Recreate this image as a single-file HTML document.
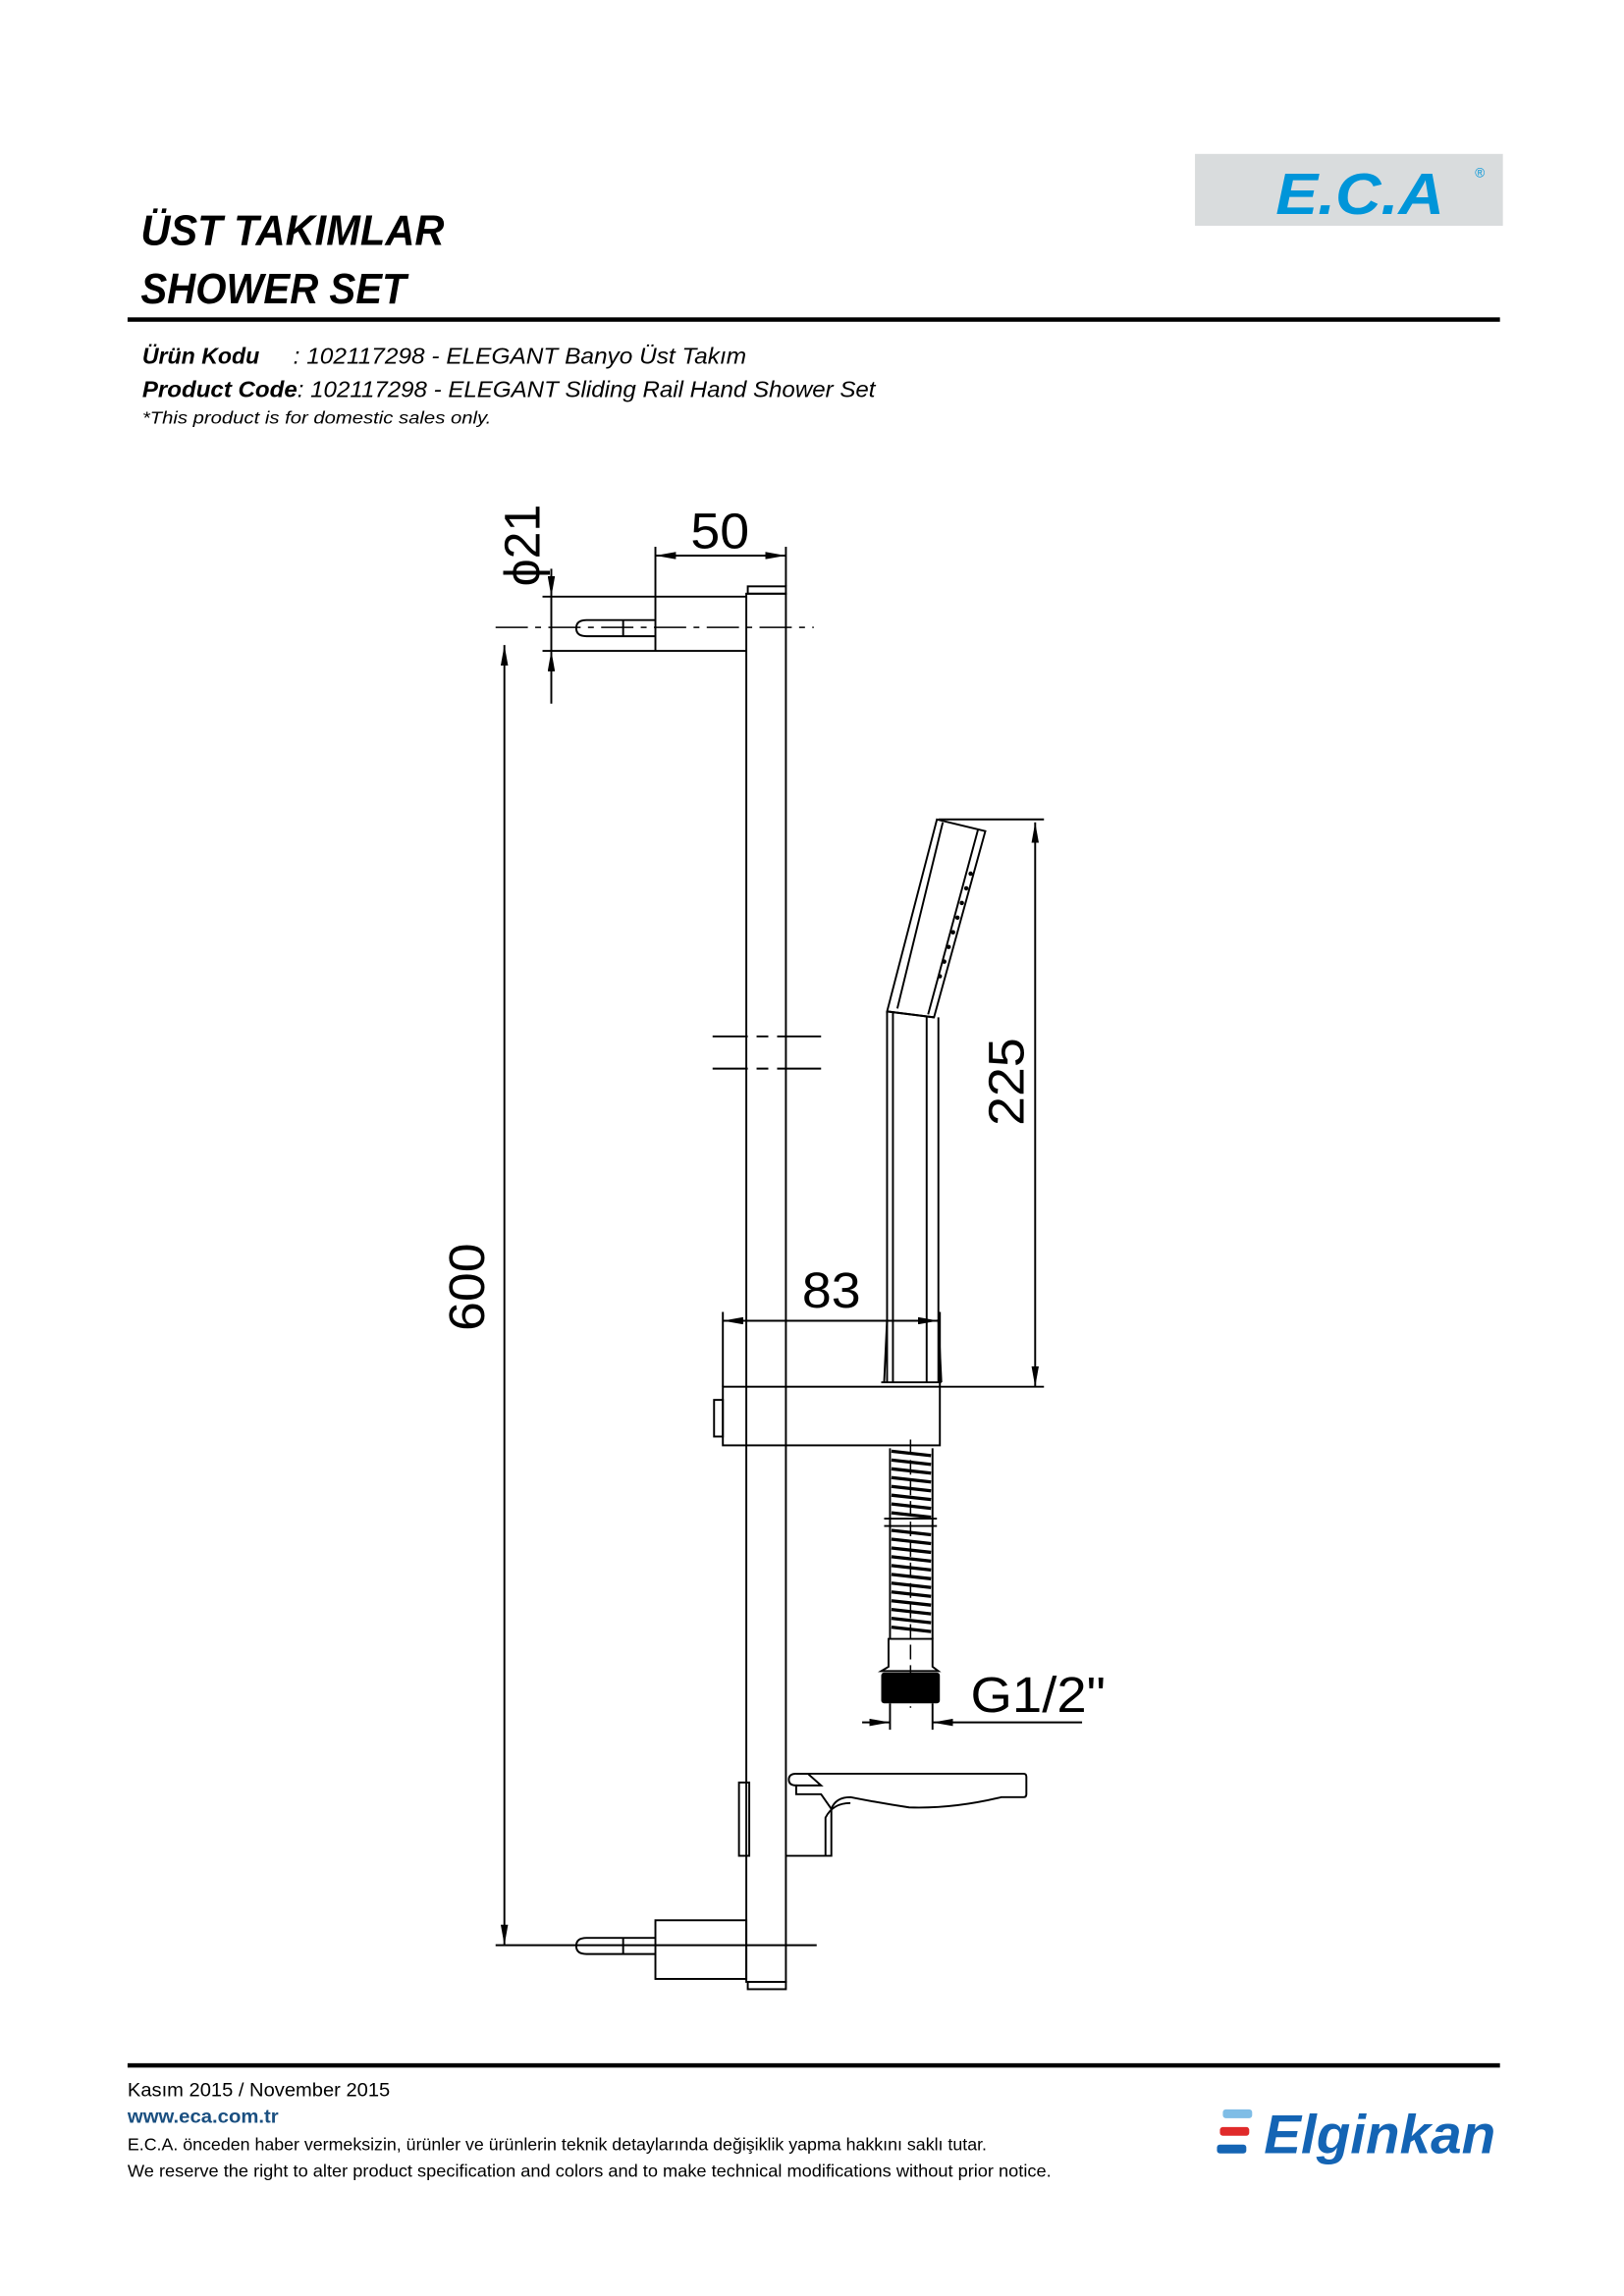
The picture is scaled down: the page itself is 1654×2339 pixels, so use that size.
<!DOCTYPE html>
<html><head><meta charset="utf-8"><style>
html,body{margin:0;padding:0;background:#fff;}
svg{display:block;}
text{font-family:"Liberation Sans",sans-serif;}
</style></head><body>
<svg width="1654" height="2339" viewBox="0 0 1107.6 1566.3" xmlns="http://www.w3.org/2000/svg">
<defs>
<marker id="a" viewBox="0 0 14 5" refX="14" refY="2.5" markerWidth="14" markerHeight="5" markerUnits="userSpaceOnUse" orient="auto-start-reverse"><path d="M0,0 L14,2.5 L0,5 z" fill="#000"/></marker>
</defs>
<text x="96" y="167" font-size="29" font-weight="bold" font-style="italic" textLength="207" lengthAdjust="spacingAndGlyphs">ÜST TAKIMLAR</text>
<text x="96" y="207" font-size="29" font-weight="bold" font-style="italic" textLength="181" lengthAdjust="spacingAndGlyphs">SHOWER SET</text>
<rect x="87" y="216.5" width="936" height="3" fill="#000"/>
<rect x="815" y="105" width="210" height="49" fill="#d9dcdd"/>
<text x="870" y="146" font-size="40" font-weight="bold" font-style="italic" fill="#0095d9" textLength="115" lengthAdjust="spacingAndGlyphs">E.C.A</text>
<text x="1006" y="121" font-size="9" fill="#0095d9">®</text>
<text x="97" y="248" font-size="15.5" font-style="italic"><tspan font-weight="bold">Ürün Kodu</tspan></text>
<text x="200" y="248" font-size="15.5" font-style="italic" textLength="309" lengthAdjust="spacingAndGlyphs">: 102117298 - ELEGANT Banyo Üst Takım</text>
<text x="97" y="271" font-size="15.5" font-style="italic" textLength="500" lengthAdjust="spacingAndGlyphs"><tspan font-weight="bold">Product Code</tspan>: 102117298 - ELEGANT Sliding Rail Hand Shower Set</text>
<text x="97" y="289" font-size="12" font-style="italic" textLength="238" lengthAdjust="spacingAndGlyphs">*This product is for domestic sales only.</text>

<g fill="none" stroke="#000" stroke-width="1.3">
<rect x="509" y="405" width="27" height="947"/>
<rect x="510" y="400" width="26" height="5"/>
<rect x="510" y="1352" width="26" height="5"/>
<line x1="370" y1="407" x2="509" y2="407"/>
<line x1="370" y1="444" x2="509" y2="444"/>
<line x1="447" y1="373" x2="447" y2="444"/>
<path d="M447,423 H400 Q393,423 393,428.5 Q393,434 400,434 H447"/>
<line x1="425" y1="423" x2="425" y2="434"/>
<line x1="338" y1="428" x2="555" y2="428" stroke-dasharray="22,5,4,5" stroke-width="1"/>
<line x1="376" y1="388" x2="376" y2="407" marker-end="url(#a)"/>
<line x1="376" y1="480" x2="376" y2="444" marker-end="url(#a)"/>
<line x1="376" y1="407" x2="376" y2="444"/>
<line x1="447" y1="379" x2="536" y2="379" marker-start="url(#a)" marker-end="url(#a)"/>
<line x1="536" y1="373" x2="536" y2="400"/>
<line x1="344" y1="440" x2="344" y2="1327" marker-start="url(#a)" marker-end="url(#a)"/>
<line x1="486" y1="707" x2="560" y2="707" stroke-dasharray="24,6,8,6,40"/>
<line x1="486" y1="729" x2="560" y2="729" stroke-dasharray="24,6,8,6,40"/>
<path d="M639,559 L672,567 L637,694 L605,690 Z"/>
<path d="M643,561 L612,688 M667,566 L633,692"/>
<line x1="605" y1="690" x2="637" y2="694"/>
<path d="M605,690 V943 M640,694 V943 M609,691 V943 M632,694 V943"/>
<path d="M603,943 L605,900 M642,943 L640,900"/>
<line x1="601" y1="943" x2="642" y2="943"/>
<line x1="706" y1="561" x2="706" y2="946" marker-start="url(#a)" marker-end="url(#a)"/>
<line x1="640" y1="559" x2="712" y2="559"/>
<line x1="641" y1="946" x2="712" y2="946"/>
<line x1="493" y1="901" x2="640" y2="901" marker-start="url(#a)" marker-end="url(#a)"/>
<line x1="493" y1="895" x2="493" y2="946"/>
<line x1="641" y1="895" x2="641" y2="946"/>
<rect x="493" y="946" width="148" height="40"/>
<rect x="487" y="955" width="6" height="25"/>
<path d="M607,988 V1118 M636,988 V1118"/>
<line x1="621" y1="982" x2="621" y2="1165" stroke-dasharray="10,4" stroke-width="1"/>
<path d="M603,1036 H639 M603,1041 H639"/>
<path d="M606,1118 H636 V1137 L640,1140 H601 L606,1137 Z"/>
<line x1="588" y1="1175" x2="607" y2="1175" marker-end="url(#a)"/>
<line x1="738" y1="1175" x2="636" y2="1175" marker-end="url(#a)"/>
<line x1="607" y1="1162" x2="607" y2="1180"/>
<line x1="636" y1="1162" x2="636" y2="1180"/>
<rect x="504" y="1216" width="7" height="50"/>
<path d="M536,1266 H567 V1234 Q570,1226 580,1226 Q600,1230 620,1233 Q650,1234 683,1226 H698 Q700,1226 700,1224 V1212 Q700,1210 698,1210 H543 Q538,1210 538,1214 Q538,1218 543,1218 V1224 H560 L567,1234"/>
<path d="M543,1210 H551 L560,1218 H543"/>
<path d="M563,1266 V1240 Q568,1230 580,1230"/>
<rect x="447" y="1310" width="62" height="40"/>
<path d="M447,1322 H400 Q393,1322 393,1327.5 Q393,1333 400,1333 H447"/>
<line x1="425" y1="1322" x2="425" y2="1333"/>
<line x1="338" y1="1327" x2="557" y2="1327"/>
</g>
<g stroke="#000" stroke-width="2.2">
<path d="M608,990 L635,993 M608,996 L635,999 M608,1002 L635,1005 M608,1008 L635,1011 M608,1014 L635,1017 M608,1020 L635,1023 M608,1026 L635,1029 M608,1032 L635,1035 M608,1044 L635,1047 M608,1050 L635,1053 M608,1056 L635,1059 M608,1062 L635,1065 M608,1068 L635,1071 M608,1074 L635,1077 M608,1080 L635,1083 M608,1086 L635,1089 M608,1092 L635,1095 M608,1098 L635,1101 M608,1104 L635,1107 M608,1110 L635,1113"/>
</g>
<g fill="#000">
<rect x="601" y="1141" width="40" height="21" rx="2"/>
<circle cx="662" cy="596" r="1.5"/><circle cx="659" cy="606" r="1.5"/><circle cx="656" cy="616" r="1.5"/><circle cx="653" cy="626" r="1.5"/><circle cx="650" cy="636" r="1.5"/><circle cx="647" cy="646" r="1.5"/><circle cx="644" cy="656" r="1.5"/><circle cx="641" cy="666" r="1.5"/>
</g>
<g font-size="34" fill="#000">
<text x="491" y="374" text-anchor="middle" textLength="40" lengthAdjust="spacingAndGlyphs">50</text>
<text x="567" y="892" text-anchor="middle" textLength="40" lengthAdjust="spacingAndGlyphs">83</text>
<text x="662" y="1168" textLength="92" lengthAdjust="spacingAndGlyphs">G1/2"</text>
<text transform="translate(368,372) rotate(-90)" text-anchor="middle" textLength="56" lengthAdjust="spacingAndGlyphs">ϕ21</text>
<text transform="translate(330,878) rotate(-90)" text-anchor="middle" textLength="60" lengthAdjust="spacingAndGlyphs">600</text>
<text transform="translate(698,738) rotate(-90)" text-anchor="middle" textLength="60" lengthAdjust="spacingAndGlyphs">225</text>
</g>

<rect x="87" y="1407.5" width="936" height="3" fill="#000"/>
<text x="87" y="1430" font-size="13" textLength="179" lengthAdjust="spacingAndGlyphs">Kasım 2015 / November 2015</text>
<text x="87" y="1448" font-size="13" font-weight="bold" fill="#1a4f80" textLength="103" lengthAdjust="spacingAndGlyphs">www.eca.com.tr</text>
<text x="87" y="1467" font-size="11.5" textLength="586" lengthAdjust="spacingAndGlyphs">E.C.A. önceden haber vermeksizin, ürünler ve ürünlerin teknik detaylarında değişiklik yapma hakkını saklı tutar.</text>
<text x="87" y="1485" font-size="11.5" textLength="630" lengthAdjust="spacingAndGlyphs">We reserve the right to alter product specification and colors and to make technical modifications without prior notice.</text>
<rect x="834" y="1439" width="20" height="6" rx="2" fill="#7fbde6"/>
<rect x="832" y="1451" width="20" height="6" rx="2" fill="#e02a2a"/>
<rect x="830" y="1463" width="20" height="6" rx="2" fill="#1464b4"/>
<text x="862" y="1469" font-size="37" font-weight="bold" font-style="italic" fill="#1464b4" textLength="158" lengthAdjust="spacingAndGlyphs">Elginkan</text>
</svg>
</body></html>
